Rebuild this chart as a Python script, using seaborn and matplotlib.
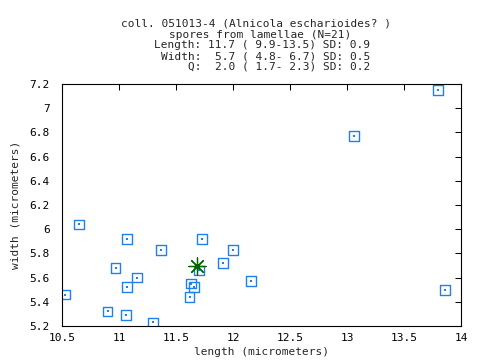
import numpy as np
import pandas as pd
import matplotlib
matplotlib.use("Agg")
import matplotlib.pyplot as plt
import seaborn as sns
from matplotlib.ticker import FormatStrFormatter, MultipleLocator

length = [10.53, 10.65, 11.07, 11.37, 10.97, 11.16, 11.07, 10.90, 11.06, 11.30,
          11.63, 11.66, 11.62, 11.70, 11.73, 11.91, 12.00, 12.16, 13.80, 13.06, 13.86]
width = [5.46, 6.04, 5.92, 5.83, 5.68, 5.60, 5.52, 5.32, 5.29, 5.23,
         5.55, 5.52, 5.44, 5.66, 5.92, 5.72, 5.83, 5.57, 7.15, 6.77, 5.50]
mean_length = [11.68]
mean_width = [5.70]

title_lines = [
    "coll. 051013-4 (Alnicola escharioides? )",
    "spores from lamellae (N=21)",
    "Length: 11.7 ( 9.9-13.5) SD: 0.9",
    "Width:  5.7 ( 4.8- 6.7) SD: 0.5",
    "Q:  2.0 ( 1.7- 2.3) SD: 0.2",
]

sns.set_style("white")
plt.rcParams['font.family'] = ['DejaVu Sans Mono']

df = pd.DataFrame({'length': length, 'width': width})
blue = '#1e80f0'
green = '#006400'

fig = plt.figure(figsize=(4.8, 3.6), dpi=100)
ax = fig.add_axes([62 / 480, 1 - 326 / 360, 399 / 480, 242 / 360])

sns.scatterplot(data=df, x='length', y='width', marker='s', s=48,
                facecolor='none', edgecolor=blue, linewidth=1.0, ax=ax)
ax.scatter(length, width, s=0.6, color=blue, marker='s', linewidths=0)

# mean marker
ax.scatter(mean_length, mean_width, marker=(8, 2, 0), s=150, color=green,
           linewidths=0.9, zorder=5)
ax.scatter(mean_length, mean_width, marker='o', s=12, color=green,
           linewidths=0, zorder=6)

ax.set_xlim(10.5, 14)
ax.set_ylim(5.2, 7.2)
ax.xaxis.set_major_locator(MultipleLocator(0.5))
ax.yaxis.set_major_locator(MultipleLocator(0.2))
ax.xaxis.set_major_formatter(FormatStrFormatter('%g'))
ax.yaxis.set_major_formatter(FormatStrFormatter('%g'))
ax.tick_params(direction='in', top=True, right=True, length=4, width=0.75,
               labelsize=8, colors='black')
ax.tick_params(axis='y', pad=9)
ax.tick_params(axis='x', pad=5)
for sp in ax.spines.values():
    sp.set_color('black')
    sp.set_linewidth(0.8)

ax.set_xlabel('length (micrometers)', fontsize=8, labelpad=3)
ax.set_ylabel('width (micrometers)', fontsize=8, labelpad=6)

# multi-line header: first two centered, stats right-aligned
fig.text(256 / 480, 1 - 24 / 360, title_lines[0], ha='center', va='center', fontsize=8)
fig.text(260 / 480, 1 - 35 / 360, title_lines[1], ha='center', va='center', fontsize=8)
for i, line in enumerate(title_lines[2:]):
    fig.text(370 / 480, 1 - (45.5 + 10.7 * i) / 360, line, ha='right', va='center', fontsize=8)

fig.savefig('out.png', dpi=100)
